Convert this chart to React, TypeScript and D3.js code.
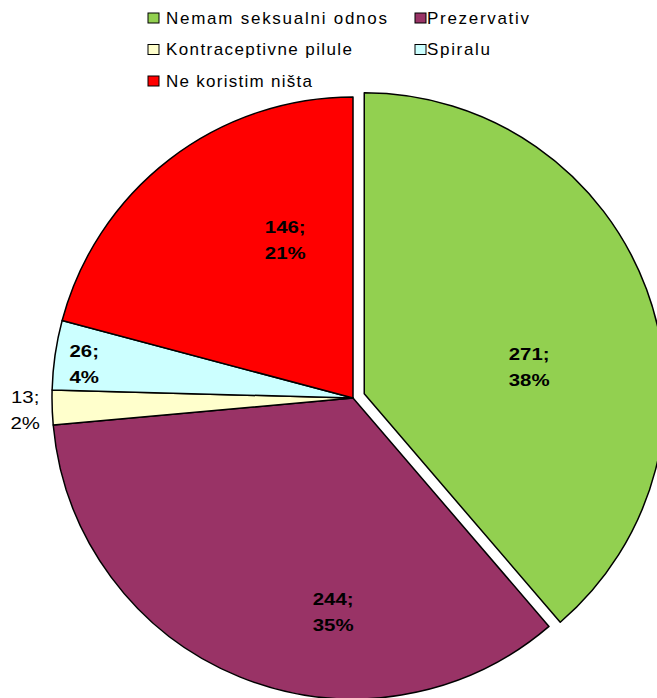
import * as d3 from "d3";

const categories = [
  "Nemam seksualni odnos",
  "Prezervativ",
  "Kontraceptivne pilule",
  "Spiralu",
  "Ne koristim ništa",
];
const values = [271, 244, 13, 26, 146];
const percentLabels = ["38%", "35%", "2%", "4%", "21%"];
const colors = ["#92D050", "#993366", "#FFFFCC", "#CCFFFF", "#FF0000"];

// label placement inside each slice: fraction along the slice angle, fraction of radius
const labelAngleFrac = [0.58, 0.366, 0.45, 0.42, 0.69];
const labelRadiusFrac = [0.555, 0.714, 1.09, 0.9, 0.57];

const width = 657;
const height = 698;
const cx = 353;
const cy = 398;
const radius = 301;
const explode = 12;

const App = () => {
  const pie = d3
    .pie<number>()
    .sort(null)
    .value((d) => d);
  const arcs = pie(values);
  const arc = d3.arc<d3.PieArcDatum<number>>().innerRadius(0).outerRadius(radius);

  // legend layout: two columns, three rows
  const legendCol = d3.scaleOrdinal<number, number>().domain([0, 1]).range([148, 415]);
  const legendRow = d3.scaleLinear().domain([0, 2]).range([18, 81]);
  const legendWidths = [221, 102, 186, 63, 146];

  return (
    <svg
      width={width}
      height={height}
      style={{ position: "absolute", left: 0, top: 0, background: "#fff" }}
      fontFamily="Liberation Sans, Arial, sans-serif"
    >
      <g transform={`translate(${cx},${cy})`}>
        {arcs.map((a, i) => {
          const mid = (a.startAngle + a.endAngle) / 2;
          const off = i === 0 ? explode : 0;
          const dx = Math.sin(mid) * off;
          const dy = -Math.cos(mid) * off;
          return (
            <path
              key={categories[i]}
              d={arc(a) || ""}
              transform={`translate(${dx},${dy})`}
              fill={colors[i]}
              stroke="#000"
              strokeWidth={1.5}
              strokeLinejoin="round"
            />
          );
        })}
        {arcs.map((a, i) => {
          const off = i === 0 ? explode : 0;
          const mid = (a.startAngle + a.endAngle) / 2;
          const ang = a.startAngle + (a.endAngle - a.startAngle) * labelAngleFrac[i];
          const r = radius * labelRadiusFrac[i];
          const x = Math.sin(ang) * r + Math.sin(mid) * off;
          const y = -Math.cos(ang) * r - Math.cos(mid) * off;
          const outside = labelRadiusFrac[i] > 1;
          return (
            <g key={"l" + i} transform={`translate(${x},${y}) scale(1.2,1)`}>
              <text
                textAnchor="middle"
                fontSize={17}
                fontWeight={outside ? "normal" : "bold"}
                fill="#000"
              >
                <tspan x={0} y={-7}>
                  {values[i]};
                </tspan>
                <tspan x={0} y={19}>
                  {percentLabels[i]}
                </tspan>
              </text>
            </g>
          );
        })}
      </g>
      <g>
        {categories.map((c, i) => {
          const x = legendCol(i % 2);
          const y = legendRow(Math.floor(i / 2));
          return (
            <g key={"lg" + c} transform={`translate(${x},${y})`}>
              <rect x={0} y={-5} width={11} height={10} fill={colors[i]} stroke="#000" strokeWidth={1} />
              <text
                x={i % 2 === 0 ? 18 : 12}
                y={0}
                dy="0.35em"
                fontSize={17}
                fill="#000"
                textLength={legendWidths[i]}
                lengthAdjust="spacing"
              >
                {c}
              </text>
            </g>
          );
        })}
      </g>
    </svg>
  );
};

export default App;
